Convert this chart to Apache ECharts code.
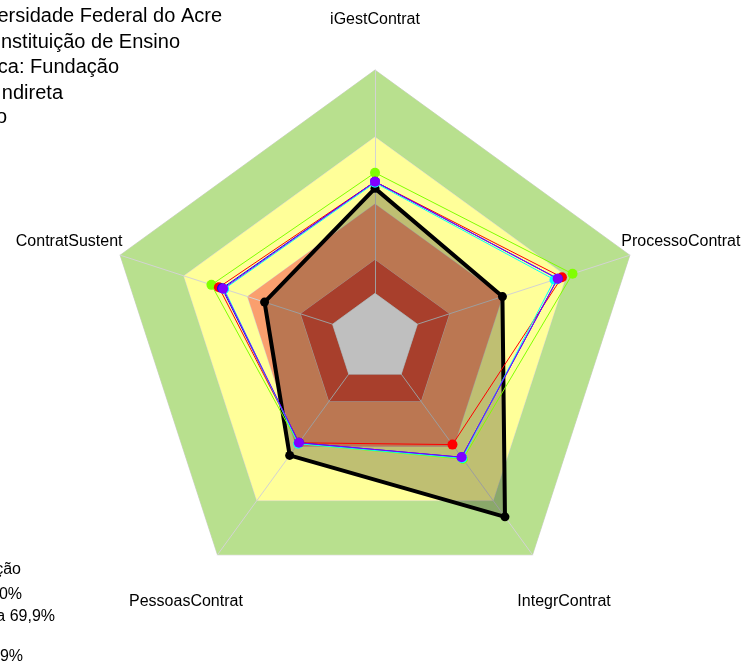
<!DOCTYPE html>
<html>
<head>
<meta charset="utf-8">
<style>
  html, body { margin: 0; padding: 0; background: #ffffff; }
  #chart { width: 748px; height: 668px; }
</style>
<script src="https://cdn.jsdelivr.net/npm/echarts/dist/echarts.min.js"></script>
</head>
<body>
<div id="chart"></div>
<script>
// Indicators, clockwise from the top
const INDICATORS = ['iGestContrat', 'ProcessoContrat', 'IntegrContrat', 'PessoasContrat', 'ContratSustent'];

// Scale: 0 sits on the inner ring, the centre is left empty
const AXIS_MIN = -20;
const AXIS_MAX = 100;

// Classification bands (upper bound of each band, %)
const BAND_LEVELS = [100, 70, 40, 15];
const CENTER_LEVEL = 0;

// Series values, in the same clockwise order as INDICATORS
const orgValues    = [47, 40, 79, 45, 32];
const redValues    = [50, 68, 39, 38, 53.5];
const greenValues  = [54, 73, 47, 38.5, 57];
const blueValues   = [50, 66, 46, 38, 52];
const cyanValues   = [49.5, 64.5, 46.5, 38.5, 51];
const purpleValues = [50, 66, 46, 38, 51.5];

// Header and legend lines
const headerLines = [
  'Universidade Federal do Acre',
  'Tipo: Instituição de Ensino',
  'Natureza Jurídica: Fundação',
  'Administração Indireta',
  'Poder: Executivo'
];
const legendLines = [
  'Classificação',
  'Aprimorado: 70 a 100%',
  'Intermediário: 40 a 69,9%',
  'Iniciando: 15 a 39,9%'
];

// ---- styling ----
const BAND_COLORS = ['#B8E08E', '#FFFF99', '#FA9F6E', '#E0553B'];
const CENTER_COLOR = '#FFFFFF';
const FONT = '"Liberation Sans", Arial, sans-serif';
const CX = 375, CY = 338, R = 268;

// ECharts lays indicators counter-clockwise; map clockwise arrays onto that order
const EC_ORDER = [0, 4, 3, 2, 1];
const toEc = arr => EC_ORDER.map(i => arr[i]);

const chart = echarts.init(document.getElementById('chart'), null, { renderer: 'canvas' });

function lineSeries(values, color, z) {
  return {
    type: 'radar',
    z: z,
    silent: true,
    symbol: 'circle',
    symbolSize: 10,
    data: [{
      value: toEc(values),
      itemStyle: { color: color },
      lineStyle: { color: color, width: 1 }
    }]
  };
}

function ring(level, color) {
  return {
    value: INDICATORS.map(() => level),
    areaStyle: { color: color, opacity: 1 },
    lineStyle: { color: '#D3D3D3', width: 1 }
  };
}

// Indicator names, centred at 1.2 x radius along each axis
const nameGraphics = INDICATORS.map((name, k) => {
  const a = k * 2 * Math.PI / INDICATORS.length;
  return {
    type: 'text',
    x: CX + 1.2 * R * Math.sin(a),
    y: CY - 1.2 * R * Math.cos(a) + 3,
    silent: true,
    style: {
      text: name, fill: '#000', font: '16px ' + FONT,
      align: 'center', verticalAlign: 'middle',
      textAlign: 'center', textVerticalAlign: 'middle'
    }
  };
});

const headerRight = [222, 180, 119, 63, 7];
const headerY = [16, 42, 67, 93, 117];
const headerGraphics = headerLines.map((t, i) => ({
  type: 'text', x: headerRight[i], y: headerY[i], silent: true,
  style: {
    text: t, fill: '#000', font: '20px ' + FONT,
    align: 'right', verticalAlign: 'middle',
    textAlign: 'right', textVerticalAlign: 'middle'
  }
}));

const legendRight = [21, 22, 55, 23];
const legendY = [570, 595, 617, 657];
const legendGraphics = legendLines.map((t, i) => ({
  type: 'text', x: legendRight[i], y: legendY[i], silent: true,
  style: {
    text: t, fill: '#000', font: '16px ' + FONT,
    align: 'right', verticalAlign: 'middle',
    textAlign: 'right', textVerticalAlign: 'middle'
  }
}));

const option = {
  animation: false,
  backgroundColor: '#ffffff',
  radar: {
    z: 2,
    center: [CX, CY],
    radius: R,
    startAngle: 90,
    shape: 'polygon',
    splitNumber: 6,
    indicator: toEc(INDICATORS).map(n => ({ name: n, min: AXIS_MIN, max: AXIS_MAX })),
    axisName: { show: false },
    axisLine: { show: true, lineStyle: { color: '#D3D3D3', width: 1 } },
    splitLine: { show: false },
    splitArea: { show: false },
    axisTick: { show: false },
    axisLabel: { show: false }
  },
  graphic: nameGraphics.concat(headerGraphics, legendGraphics),
  series: [
    {
      type: 'radar', z: 1, silent: true, symbol: 'none',
      data: BAND_LEVELS.map((lv, i) => ring(lv, BAND_COLORS[i]))
    },
    {
      // empty centre, drawn over the axis lines
      type: 'radar', z: 2.5, silent: true, symbol: 'none',
      data: [ring(CENTER_LEVEL, CENTER_COLOR)]
    },
    {
      type: 'radar',
      z: 3,
      silent: true,
      symbol: 'circle',
      symbolSize: 9,
      data: [{
        value: toEc(orgValues),
        itemStyle: { color: '#000000' },
        lineStyle: { color: '#000000', width: 4 },
        areaStyle: { color: 'rgba(0,0,0,0.25)', opacity: 1 }
      }]
    },
    lineSeries(greenValues, '#80FF00', 4),
    lineSeries(redValues, '#FF0000', 5),
    lineSeries(blueValues, '#0000FF', 6),
    lineSeries(cyanValues, '#00FFFF', 7),
    lineSeries(purpleValues, '#8000FF', 8)
  ]
};

chart.setOption(option);
</script>
</body>
</html>
